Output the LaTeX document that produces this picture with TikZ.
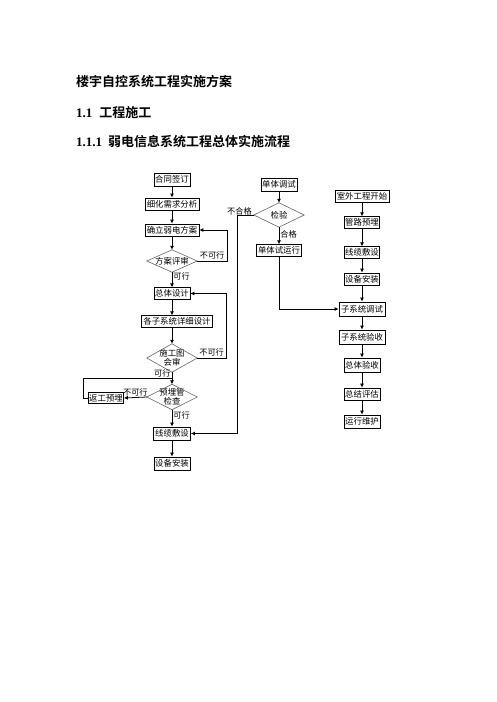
\documentclass[tikz,border=0pt]{standalone}
\usepackage{fontspec}
\setmainfont{Liberation Serif}
\newfontfamily\cjk{Noto Sans CJK SC}[BoldFont={Noto Sans CJK SC Bold}]
\usetikzlibrary{arrows.meta}
\begin{document}
\begin{tikzpicture}[x=1pt,y=-1pt,
  box/.style={draw=black,line width=0.8pt,inner sep=0pt,minimum height=12pt,font=\cjk\fontsize{8.4}{9}\selectfont},
  dia/.style={inner sep=0pt,font=\cjk\fontsize{8.4}{8.6}\selectfont,align=center},
  diaedge/.style={draw=black!60,line width=0.6pt},
  arr/.style={line width=0.8pt,-{Latex[length=4pt,width=4pt]}},
  ln/.style={line width=0.8pt},
  lab/.style={font=\cjk\fontsize{8.2}{9}\selectfont,inner sep=1pt},
  head/.style={anchor=west,inner sep=0pt,font=\bfseries\fontsize{13}{15}\selectfont}
]
\useasboundingbox[fill=white] (0,0) rectangle (496,702);
% headings
\node[head] (h1) at (76,82) {\cjk\bfseries 楼宇自控系统工程实施方案};
\node[head] (h2) at (76,113) {1.1\hspace{7pt}{\cjk\bfseries 工程施工}};
\node[head] (h3) at (76,142) {1.1.1\hspace{6pt}{\cjk\bfseries 弱电信息系统工程总体实施流程}};
% left column
\node[box,minimum width=36pt,minimum height=13pt] (n1) at (172,179.5) {合同签订};
\node[box,minimum width=54pt] (n2) at (172,204) {细化需求分析};
\node[box,minimum width=54pt] (n3) at (172,230) {确立弱电方案};
\node[dia,minimum width=50pt,minimum height=22pt] (d1) at (172,261) {方案评审};
\node[box,minimum width=36pt,minimum height=11.5pt] (n4) at (172,293.5) {总体设计};
\node[box,minimum width=71pt,minimum height=11.5pt] (n5) at (177,321.5) {各子系统详细设计};
\node[dia,minimum width=50pt,minimum height=28pt] (d2) at (172,358) {施工图\\会审};
\node[dia,minimum width=50pt,minimum height=25pt] (d3) at (172,397) {预埋管\\检查};
\node[box,minimum width=35pt,minimum height=11.5pt] (n6) at (106,398) {返工预埋};
\node[box,minimum width=37pt,minimum height=13pt] (n7) at (172,433.5) {线缆敷设};
\node[box,minimum width=36pt,minimum height=13pt] (n8) at (172,463.5) {设备安装};
% middle column
\node[box,minimum width=36pt,minimum height=13pt] (m1) at (279,184.5) {单体调试};
\node[dia,minimum width=50pt,minimum height=24pt] (md) at (279,215) {检验};
\node[box,minimum width=45pt,minimum height=11.5pt] (m2) at (279,250.5) {单体试运行};
% diamond outlines
\foreach \d in {d1,d2,d3,md}
  \draw[diaedge] (\d.north) -- (\d.east) -- (\d.south) -- (\d.west) -- cycle;
% right column
\node[box,minimum width=54pt] (r1) at (362,196) {室外工程开始};
\node[box,minimum width=35pt,minimum height=11.5pt] (r2) at (362,222.5) {管路预埋};
\node[box,minimum width=35pt,minimum height=11.5pt] (r3) at (362,252.5) {线缆敷设};
\node[box,minimum width=35pt] (r4) at (362,279) {设备安装};
\node[box,minimum width=46pt,minimum height=14pt] (r5) at (362,309) {子系统调试};
\node[box,minimum width=46pt,minimum height=14pt] (r6) at (362,337) {子系统验收};
\node[box,minimum width=36pt,minimum height=14pt] (r7) at (362,365) {总体验收};
\node[box,minimum width=36pt] (r8) at (362,394) {总结评估};
\node[box,minimum width=36pt,minimum height=13pt] (r9) at (362,421.5) {运行维护};
% coordinates
\coordinate (c1) at (227,261);
\coordinate (c2) at (226,358);
\coordinate (c3) at (83,378);
\coordinate (c4) at (172,378);
\coordinate (c5) at (237,215);
% left connectors
\draw[arr] (n1.south) -- (n2.north);
\draw[arr] (n2.south) -- (n3.north);
\draw[arr] (n3.south) -- (d1.north);
\draw[arr] (d1.south) -- node[lab,right,pos=0.3] {可行} (n4.north);
\draw[arr] (n4.south) -- (n4.south |- n5.north);
\draw[arr] (n4.south |- n5.south) -- (d2.north);
\draw[arr] (d2.south) -- node[lab,left,pos=0.1] {可行} (d3.north);
\draw[arr] (d3.south) -- node[lab,right,pos=0.35] {可行} (n7.north);
\draw[arr] (n7.south) -- (n8.north);
\draw[arr] (d1.east) -- node[lab,above,pos=0.5] {不可行} (c1) |- (n3.east);
\draw[arr] (d2.east) -- node[lab,above,pos=0.5] {不可行} (c2) |- (n4.east);
\draw[arr] (d3.west) -- node[lab,above,pos=0.5] {不可行} (n6.east);
\draw[ln] (n6.west) -| (c3) -- (c4);
\draw[arr] (md.west) -- (c5) |- (n7.east);
\node[lab,anchor=south east] (t1) at (253,216) {不合格};
% middle connectors
\draw[arr] (m1.south) -- (md.north);
\draw[arr] (md.south) -- node[lab,right,pos=0.4] {合格} (m2.north);
\draw[arr] (m2.south) |- (r5.west);
% right connectors
\draw[arr] (r1.south) -- (r2.north);
\draw[arr] (r2.south) -- (r3.north);
\draw[arr] (r3.south) -- (r4.north);
\draw[arr] (r4.south) -- (r5.north);
\draw[arr] (r5.south) -- (r6.north);
\draw[arr] (r6.south) -- (r7.north);
\draw[arr] (r7.south) -- (r8.north);
\draw[arr] (r8.south) -- (r9.north);
\end{tikzpicture}
\end{document}
